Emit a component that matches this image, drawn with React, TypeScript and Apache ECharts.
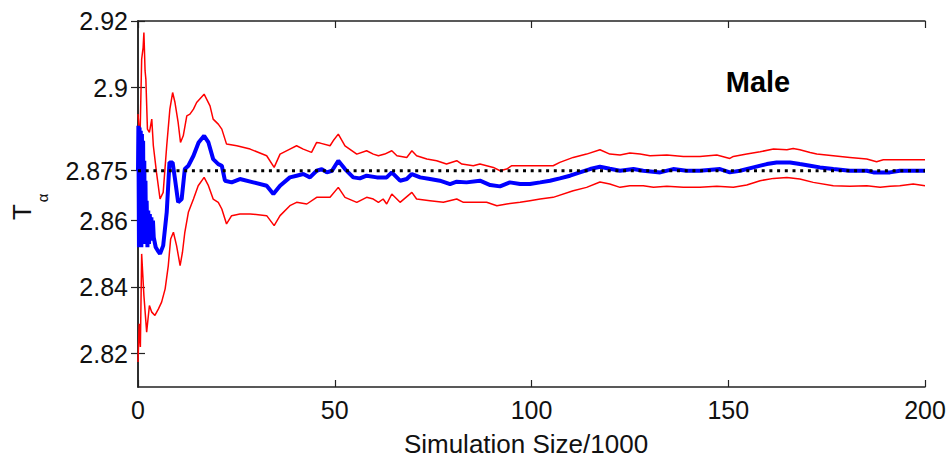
import React, { useEffect, useRef } from "react";
import * as echarts from "echarts";

const xTicks = [0, 50, 100, 150, 200];
const yTickValues = [2.82, 2.84, 2.86, 2.875, 2.9, 2.92];
const referenceValue = 2.875;

const upperBand: [number, number][] = [
  [0, 2.892], [0.5, 2.884], [0.93, 2.9085], [1.3, 2.912], [1.5, 2.9165], [1.8, 2.905], [2.0, 2.9025],
  [2.4, 2.8875], [2.9, 2.8865], [3.5, 2.8905], [3.9, 2.8825], [4.7, 2.8745], [5.6, 2.8665], [6.4, 2.8685],
  [7.3, 2.8825], [8.1, 2.8935], [8.8, 2.8985], [9.4, 2.8955], [10.2, 2.8895], [10.8, 2.8835], [11.5, 2.8855],
  [12.4, 2.8915], [13.2, 2.892], [14.1, 2.8935], [14.9, 2.8955], [16.8, 2.898], [18.3, 2.8945], [19.1, 2.8905],
  [20.4, 2.889], [21.3, 2.8875], [22.5, 2.883], [25.1, 2.8825], [28.5, 2.8815], [32.7, 2.8795], [34.6, 2.876],
  [36.1, 2.88], [38.6, 2.8815], [40.3, 2.8825], [42.0, 2.8815], [44.1, 2.8805], [45.4, 2.8835], [46.3, 2.8833],
  [48.8, 2.8825], [49.6, 2.884], [50.9, 2.886], [52.6, 2.8825], [55.6, 2.88], [58.1, 2.881], [59.8, 2.88],
  [61.1, 2.8795], [62.7, 2.88], [64.5, 2.881], [65.8, 2.8795], [68.3, 2.879], [69.6, 2.881], [70.8, 2.8795],
  [73.4, 2.8785], [75.9, 2.878], [78.4, 2.877], [81.0, 2.878], [82.3, 2.877], [85.2, 2.8765], [86.9, 2.877],
  [88.6, 2.8765], [90.3, 2.876], [92.0, 2.875], [93.7, 2.8755], [95.0, 2.8765], [97.1, 2.8765], [102.2, 2.8765],
  [105.5, 2.8765], [107.2, 2.8775], [110.6, 2.879], [114.0, 2.88], [117.4, 2.8813], [119.9, 2.88], [122.5, 2.8797],
  [125.0, 2.8803], [127.6, 2.88], [130.1, 2.8795], [134.4, 2.8797], [138.6, 2.8793], [142.8, 2.8793],
  [147.1, 2.8797], [150.4, 2.8787], [151.3, 2.8793], [154.7, 2.88], [158.1, 2.8807], [161.5, 2.8815],
  [164.9, 2.8813], [166.5, 2.8817], [168.2, 2.8813], [170.8, 2.8805], [172.5, 2.88], [176.7, 2.8795],
  [180.9, 2.879], [185.2, 2.8785], [187.7, 2.8777], [189.4, 2.8783], [200, 2.8783],
];

const lowerBand: [number, number][] = [
  [0, 2.8175], [0.3, 2.829], [0.6, 2.822], [0.93, 2.85], [1.5, 2.8375], [2.2, 2.8265], [2.9, 2.8345],
  [3.5, 2.8325], [4.3, 2.8315], [5.2, 2.8335], [6.0, 2.8355], [6.9, 2.8395], [7.7, 2.8465], [8.3, 2.8545],
  [9.0, 2.8565], [9.8, 2.8525], [10.7, 2.8465], [11.3, 2.8505], [11.9, 2.8565], [12.8, 2.8625], [14.1, 2.8665],
  [15.3, 2.8705], [16.8, 2.873], [17.9, 2.8705], [19.1, 2.8665], [20.4, 2.8655], [21.3, 2.8635], [22.5, 2.859],
  [23.8, 2.8615], [25.9, 2.862], [28.5, 2.862], [32.7, 2.8615], [34.6, 2.8585], [36.1, 2.8615], [38.6, 2.8645],
  [40.3, 2.8655], [42.9, 2.865], [45.4, 2.867], [48.8, 2.867], [50.9, 2.87], [52.6, 2.867], [55.6, 2.8655],
  [58.1, 2.867], [59.8, 2.8665], [61.1, 2.8655], [62.3, 2.8665], [63.2, 2.865], [64.5, 2.868], [66.6, 2.8655],
  [69.6, 2.8685], [70.8, 2.8665], [74.2, 2.866], [77.6, 2.8655], [81.0, 2.8665], [82.7, 2.8655], [88.6, 2.8655],
  [91.2, 2.8645], [93.7, 2.865], [97.1, 2.8655], [99.6, 2.866], [102.2, 2.8665], [105.5, 2.867], [110.6, 2.869],
  [114.0, 2.87], [117.4, 2.8716], [119.9, 2.871], [122.5, 2.87], [125.0, 2.8705], [128.4, 2.8705], [131.0, 2.87],
  [134.4, 2.8703], [138.6, 2.87], [142.8, 2.87], [147.1, 2.8703], [151.3, 2.87], [154.7, 2.8707], [158.1, 2.872],
  [161.5, 2.8727], [164.9, 2.873], [168.2, 2.8725], [171.6, 2.8715], [176.7, 2.8705], [180.9, 2.8703],
  [185.2, 2.8705], [188.6, 2.87], [191.1, 2.8703], [193.6, 2.8705], [197.0, 2.871], [200, 2.8705],
];

const estimate: [number, number][] = [
  [0, 2.875], [0.1, 2.8885], [0.25, 2.852], [0.4, 2.888], [0.55, 2.853], [0.7, 2.887], [0.85, 2.852],
  [1.0, 2.886], [1.15, 2.853], [1.3, 2.884], [1.45, 2.853], [1.6, 2.878], [1.75, 2.853], [1.9, 2.872],
  [2.05, 2.853], [2.2, 2.866], [2.4, 2.852], [2.6, 2.863], [2.8, 2.853], [3.0, 2.862], [3.2, 2.854],
  [3.4, 2.861], [3.6, 2.854], [3.8, 2.86], [4.0, 2.855], [4.5, 2.852], [5.0, 2.851], [5.6, 2.85], [6.4, 2.8525],
  [7.3, 2.8625], [8.0, 2.8775],
  [8.8, 2.8775], [9.4, 2.8725], [10.2, 2.8655], [11.1, 2.8665], [11.9, 2.8755], [12.8, 2.8765], [14.1, 2.8795],
  [15.4, 2.8835], [16.8, 2.8855], [17.9, 2.8835], [19.1, 2.8785], [20.4, 2.877], [21.3, 2.8765], [22.1, 2.872],
  [23.8, 2.8715], [25.9, 2.8725], [29.3, 2.8715], [32.7, 2.8705], [34.4, 2.868], [36.1, 2.8705], [38.6, 2.873],
  [40.3, 2.8735], [42.0, 2.874], [43.7, 2.873], [45.4, 2.875], [46.7, 2.8755], [48.0, 2.8745], [49.3, 2.875],
  [50.9, 2.878], [52.6, 2.8755], [54.7, 2.873], [56.4, 2.8727], [58.1, 2.8735], [60.7, 2.873], [63.2, 2.873],
  [64.5, 2.8745], [66.6, 2.872], [68.3, 2.8725], [69.6, 2.874], [71.7, 2.873], [74.2, 2.8725], [76.7, 2.872],
  [79.3, 2.871], [81.0, 2.8717], [83.5, 2.8715], [86.9, 2.872], [89.5, 2.8707], [92.0, 2.8703], [94.5, 2.8715],
  [97.1, 2.871], [99.6, 2.871], [102.2, 2.8715], [104.7, 2.872], [107.2, 2.8727], [109.8, 2.8735], [112.3, 2.8745],
  [114.9, 2.8755], [117.4, 2.8762], [119.9, 2.8756], [122.5, 2.875], [125.9, 2.8755], [128.4, 2.875],
  [132.7, 2.8745], [136.0, 2.8755], [139.4, 2.875], [142.8, 2.875], [147.9, 2.8755], [150.4, 2.8745],
  [153.0, 2.875], [156.4, 2.876], [159.8, 2.877], [162.3, 2.8775], [165.7, 2.8775], [168.2, 2.877],
  [170.8, 2.8765], [173.3, 2.876], [176.7, 2.8755], [180.9, 2.875], [185.2, 2.875], [186.9, 2.8745],
  [191.1, 2.8745], [193.6, 2.875], [200, 2.875],
];

const FONT = "'Liberation Sans', Arial, Helvetica, sans-serif";

export default function App() {
  const ref = useRef<HTMLDivElement>(null);
  useEffect(() => {
    if (!ref.current) return;
    const chart = echarts.init(ref.current, undefined, { renderer: "svg" });
    const axisLine = { show: true, lineStyle: { color: "#222", width: 1.5 } };
    const tickStyle = { show: true, inside: true, length: 7, lineStyle: { color: "#222", width: 1.2 } };
    chart.setOption({
      animation: false,
      backgroundColor: "#ffffff",
      grid: { left: 138, top: 21, right: 25, bottom: 73, containLabel: false },
      xAxis: [
        {
          type: "value", min: 0, max: 200, interval: 50, position: "bottom",
          axisLine, axisTick: tickStyle, splitLine: { show: false },
          axisLabel: { show: true, color: "#111", fontSize: 25, fontFamily: FONT, margin: 10 },
        },
        {
          type: "value", min: 0, max: 200, interval: 50, position: "top",
          axisLine, axisTick: tickStyle, splitLine: { show: false }, axisLabel: { show: false },
        },
      ],
      yAxis: [
        {
          type: "value", min: 2.81, max: 2.92, position: "left",
          axisLine, axisTick: { ...tickStyle, customValues: yTickValues }, splitLine: { show: false },
          axisLabel: {
            show: true, color: "#111", fontSize: 25, fontFamily: FONT, margin: 10,
            customValues: yTickValues,
            formatter: (v: number) => String(Math.round(v * 1000) / 1000),
          },
        },
        {
          type: "value", min: 2.81, max: 2.92, position: "right",
          axisLine, axisTick: { ...tickStyle, customValues: yTickValues }, splitLine: { show: false },
          axisLabel: { show: false },
        },
      ],
      series: [
        {
          type: "line", data: upperBand, showSymbol: false, symbol: "none",
          lineStyle: { color: "#ff0000", width: 1.5 }, z: 2,
        },
        {
          type: "line", data: lowerBand, showSymbol: false, symbol: "none",
          lineStyle: { color: "#ff0000", width: 1.5 }, z: 2,
        },
        {
          type: "line", data: estimate, showSymbol: false, symbol: "none",
          lineStyle: { color: "#0000ff", width: 4 }, z: 3,
        },
        {
          type: "line", data: [[0, referenceValue], [200, referenceValue]], showSymbol: false, symbol: "none",
          lineStyle: { color: "#000000", width: 3, type: [3, 4.7] }, z: 4,
        },
      ],
      graphic: [
        {
          type: "text", x: 758, y: 82,
          style: { text: "Male", font: `bold 29px ${FONT}`, fill: "#000", align: "center", verticalAlign: "middle" },
        },
        {
          type: "text", x: 526, y: 444,
          style: { text: "Simulation Size/1000", font: `26px ${FONT}`, fill: "#111", align: "center", verticalAlign: "middle" },
        },
        {
          type: "text", x: 22, y: 212, rotation: Math.PI / 2,
          style: { text: "T", font: `26px ${FONT}`, fill: "#111", align: "center", verticalAlign: "middle" },
        },
        {
          type: "text", x: 42, y: 198, rotation: Math.PI / 2,
          style: { text: "α", font: `15px ${FONT}`, fill: "#111", align: "center", verticalAlign: "middle" },
        },
      ],
    });
    return () => chart.dispose();
  }, []);
  return (
    <div
      ref={ref}
      style={{ position: "absolute", left: 0, top: 0, width: 950, height: 460 }}
    />
  );
}
